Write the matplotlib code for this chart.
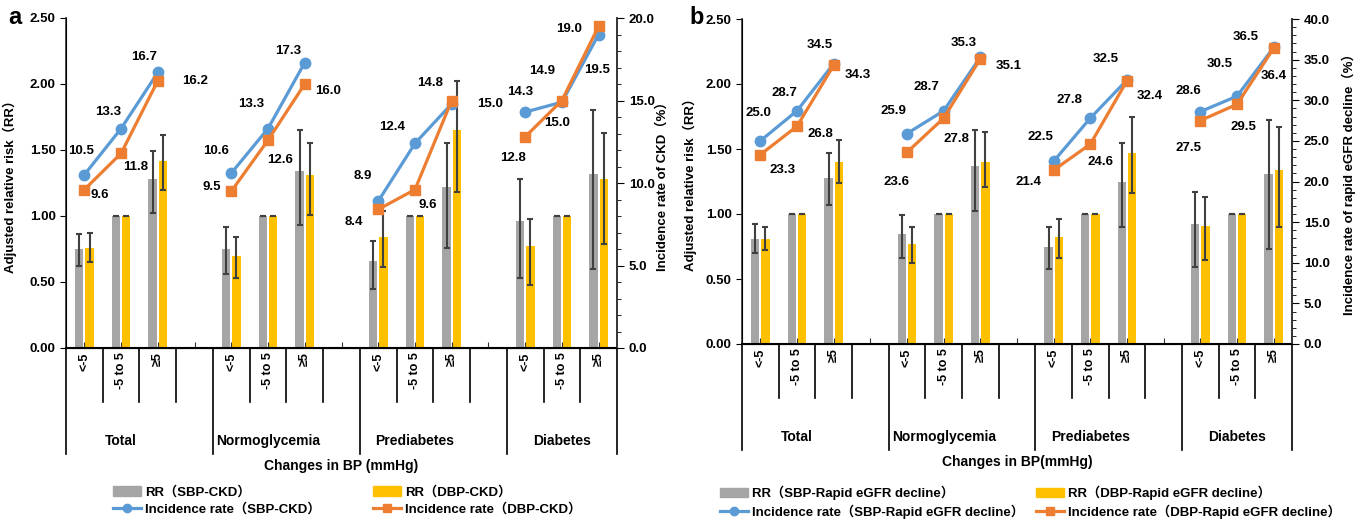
import numpy as np
import matplotlib
matplotlib.use("Agg")
import matplotlib.pyplot as plt
from matplotlib.patches import Patch
from matplotlib.lines import Line2D
from matplotlib.ticker import MultipleLocator, FormatStrFormatter

plt.rcParams['font.family'] = ['Liberation Sans', 'Noto Sans CJK SC']
plt.rcParams['font.weight'] = 'bold'
plt.rcParams['axes.labelweight'] = 'bold'

groups = ['Total', 'Normoglycemia', 'Prediabetes', 'Diabetes']
bp_cats = ['<-5', '-5 to 5', '≥5']

# panel a: CKD
rr_sbp_ckd = [0.75, 1.00, 1.28, 0.75, 1.00, 1.34, 0.66, 1.00, 1.22, 0.96, 1.00, 1.32]
rr_sbp_ckd_lo = [0.62, 1.00, 1.02, 0.56, 1.00, 0.93, 0.45, 1.00, 0.76, 0.53, 1.00, 0.60]
rr_sbp_ckd_hi = [0.86, 1.00, 1.49, 0.92, 1.00, 1.65, 0.81, 1.00, 1.55, 1.28, 1.00, 1.80]
rr_dbp_ckd = [0.76, 1.00, 1.42, 0.70, 1.00, 1.31, 0.84, 1.00, 1.65, 0.77, 1.00, 1.28]
rr_dbp_ckd_lo = [0.65, 1.00, 1.20, 0.53, 1.00, 1.01, 0.61, 1.00, 1.18, 0.48, 1.00, 0.79]
rr_dbp_ckd_hi = [0.87, 1.00, 1.61, 0.84, 1.00, 1.55, 1.04, 1.00, 2.02, 0.98, 1.00, 1.63]
ir_sbp_ckd = [10.5, 13.3, 16.7, 10.6, 13.3, 17.3, 8.9, 12.4, 14.8, 14.3, 14.9, 19.0]
ir_dbp_ckd = [9.6, 11.8, 16.2, 9.5, 12.6, 16.0, 8.4, 9.6, 15.0, 12.8, 15.0, 19.5]

# panel b: rapid eGFR decline
rr_sbp_egfr = [0.81, 1.00, 1.28, 0.85, 1.00, 1.37, 0.75, 1.00, 1.25, 0.92, 1.00, 1.31]
rr_sbp_egfr_lo = [0.70, 1.00, 1.07, 0.66, 1.00, 1.02, 0.58, 1.00, 0.90, 0.59, 1.00, 0.73]
rr_sbp_egfr_hi = [0.92, 1.00, 1.47, 0.99, 1.00, 1.65, 0.90, 1.00, 1.55, 1.17, 1.00, 1.72]
rr_dbp_egfr = [0.81, 1.00, 1.40, 0.77, 1.00, 1.40, 0.82, 1.00, 1.47, 0.91, 1.00, 1.34]
rr_dbp_egfr_lo = [0.72, 1.00, 1.24, 0.62, 1.00, 1.21, 0.66, 1.00, 1.16, 0.65, 1.00, 0.90]
rr_dbp_egfr_hi = [0.90, 1.00, 1.57, 0.90, 1.00, 1.63, 0.96, 1.00, 1.75, 1.13, 1.00, 1.67]
ir_sbp_egfr = [25.0, 28.7, 34.5, 25.9, 28.7, 35.3, 22.5, 27.8, 32.5, 28.6, 30.5, 36.5]
ir_dbp_egfr = [23.3, 26.8, 34.3, 23.6, 27.8, 35.1, 21.4, 24.6, 32.4, 27.5, 29.5, 36.4]

# label offsets (pixels) for the incidence numbers, as placed in the original
off_sbp_ckd = [(-3, 24), (-13, 17), (-14, 15), (-15, 22), (-17, 25), (-17, 12),
               (-15, 25), (-23, 16), (-22, 21), (-5, 20), (-20, 31), (-30, 6)]
off_dbp_ckd = [(15, -5), (15, -14), (37, 0), (-20, 4), (12, -20), (23, -7),
               (-24, -13), (13, -15), (38, -3), (-12, -21), (-5, -22), (-2, -44)]
off_sbp_egfr = [(-2, 28), (-13, 18), (-14, 19), (-14, 23), (-17, 24), (-17, 14),
                (-13, 24), (-21, 18), (-21, 21), (-12, 21), (-17, 32), (-28, 10)]
off_dbp_egfr = [(22, -15), (23, -8), (24, -10), (-11, -30), (13, -21), (28, -7),
                (-25, -12), (10, -18), (23, -15), (-12, -27), (6, -23), (0, -28)]

GREY = '#A5A5A5'
YELLOW = '#FFC000'
BLUE = '#5B9BD5'
ORANGE = '#ED7D31'
ERR = '#404040'

fig = plt.figure(figsize=(13.64, 5.21), dpi=100)
W, H = 1364, 521


def draw_panel(rect, rr_s, lo_s, hi_s, rr_d, lo_d, hi_d, ir_s, ir_d, off_s, off_d,
               ymax2, rlabel, xlabel, names, leg_x, lab_x):
    x0, y0, x1, y1 = rect
    ax = fig.add_axes([x0 / W, 1 - y1 / H, (x1 - x0) / W, (y1 - y0) / H])
    ah = y1 - y0
    pos = np.array([g * 4 + k for g in range(4) for k in range(3)])
    bw = 0.23
    rr_s, rr_d = np.array(rr_s), np.array(rr_d)
    err_s = [rr_s - np.array(lo_s), np.array(hi_s) - rr_s]
    err_d = [rr_d - np.array(lo_d), np.array(hi_d) - rr_d]
    ax.bar(pos - 0.14, rr_s, bw, color=GREY, yerr=err_s, capsize=2,
           error_kw=dict(ecolor=ERR, elinewidth=1.5, capthick=1.5))
    ax.bar(pos + 0.14, rr_d, bw, color=YELLOW, yerr=err_d, capsize=2,
           error_kw=dict(ecolor=ERR, elinewidth=1.5, capthick=1.5))
    ax.set_xlim(-0.5, 14.5)
    ax.set_ylim(0, 2.5)
    ax.yaxis.set_major_locator(MultipleLocator(0.5))
    ax.yaxis.set_major_formatter(FormatStrFormatter('%.2f'))
    ticks = np.arange(15)
    tlabels = [bp_cats[i % 4] if i % 4 < 3 else '' for i in ticks]
    ax.set_xticks(ticks)
    ax.set_xticklabels(tlabels, rotation=90, fontsize=9, va='top')
    ax.tick_params(axis='x', direction='in', length=4, pad=3, color='#333333')
    ax.tick_params(axis='y', direction='out', length=4, labelsize=9.5)
    ax.spines['top'].set_visible(False)
    for s in ['left', 'right', 'bottom']:
        ax.spines[s].set_color('#333333')
        ax.spines[s].set_linewidth(1.2)
    ax.spines['bottom'].set_color('black')
    ax.spines['bottom'].set_linewidth(1.5)
    ax.set_ylabel('Adjusted relative risk（RR）', fontsize=9.5)
    ax.yaxis.set_label_coords((lab_x[0] - x0) / (x1 - x0), 0.5)

    # divider lines under the category axis
    tr = ax.get_xaxis_transform()
    short_y = -54 / ah
    long_y = -106 / ah
    for b in np.arange(-0.5, 15, 1.0):
        yb = long_y if (b + 0.5) % 4 == 0 or b == 14.5 else short_y
        ax.plot([b, b], [0, yb], transform=tr, color='black', lw=1.2, clip_on=False)
    for g, name in enumerate(groups):
        ax.text(g * 4 + 1, -93 / ah, name, transform=tr, ha='center', va='center',
                fontsize=10)
    ax.text(0.5, -118 / ah, xlabel, transform=ax.transAxes, ha='center', va='center',
            fontsize=10)

    ax2 = ax.twinx()
    ax2.set_ylim(0, ymax2)
    ax2.yaxis.set_major_locator(MultipleLocator(5))
    ax2.yaxis.set_minor_locator(MultipleLocator(1))
    ax2.yaxis.set_major_formatter(FormatStrFormatter('%.1f'))
    ax2.tick_params(axis='y', which='major', direction='out', length=5, labelsize=9.5)
    ax2.tick_params(axis='y', which='minor', direction='out', length=3)
    ax2.spines['top'].set_visible(False)
    ax2.spines['right'].set_color('#333333')
    ax2.spines['right'].set_linewidth(1.2)
    ax2.set_ylabel(rlabel, fontsize=9.5)
    ax2.yaxis.set_label_coords((lab_x[1] - x0) / (x1 - x0), 0.5)
    for g in range(4):
        idx = slice(g * 3, g * 3 + 3)
        ax2.plot(pos[idx], ir_s[idx], color=BLUE, lw=2.3, marker='o', ms=7.5)
        ax2.plot(pos[idx], ir_d[idx], color=ORANGE, lw=2.3, marker='s', ms=7.5)
    for i in range(12):
        ax2.annotate('%.1f' % ir_s[i], (pos[i], ir_s[i]), xytext=off_s[i],
                     textcoords='offset pixels', ha='center', va='center', fontsize=9.5)
        ax2.annotate('%.1f' % ir_d[i], (pos[i], ir_d[i]), xytext=off_d[i],
                     textcoords='offset pixels', ha='center', va='center', fontsize=9.5)

    h_grey = Patch(color=GREY)
    h_yel = Patch(color=YELLOW)
    h_blue = Line2D([], [], color=BLUE, lw=2.3, marker='o', ms=6)
    h_or = Line2D([], [], color=ORANGE, lw=2.3, marker='s', ms=6)
    kw = dict(loc='upper left', frameon=False, fontsize=9.5, borderpad=0,
              borderaxespad=0, handlelength=2.1, handletextpad=0.3, labelspacing=0.3,
              bbox_transform=fig.transFigure)
    fig.legend([h_grey, h_blue], names[0:2], bbox_to_anchor=(leg_x[0] / W, 1 - 486 / H), **kw)
    fig.legend([h_yel, h_or], names[2:4], bbox_to_anchor=(leg_x[1] / W, 1 - 486 / H), **kw)
    return ax


draw_panel((66, 18, 617, 348), rr_sbp_ckd, rr_sbp_ckd_lo, rr_sbp_ckd_hi,
           rr_dbp_ckd, rr_dbp_ckd_lo, rr_dbp_ckd_hi, ir_sbp_ckd, ir_dbp_ckd,
           off_sbp_ckd, off_dbp_ckd, 20, 'Incidence rate of CKD（%）',
           'Changes in BP (mmHg)',
           ['RR（SBP-CKD）', 'Incidence rate（SBP-CKD）',
            'RR（DBP-CKD）', 'Incidence rate（DBP-CKD）'],
           (113, 373), (17, 656))

draw_panel((742, 19, 1292, 344), rr_sbp_egfr, rr_sbp_egfr_lo, rr_sbp_egfr_hi,
           rr_dbp_egfr, rr_dbp_egfr_lo, rr_dbp_egfr_hi, ir_sbp_egfr, ir_dbp_egfr,
           off_sbp_egfr, off_dbp_egfr, 40, 'Incidence rate of rapid eGFR decline（%）',
           'Changes in BP(mmHg)',
           ['RR（SBP-Rapid eGFR decline）', 'Incidence rate（SBP-Rapid eGFR decline）',
            'RR（DBP-Rapid eGFR decline）', 'Incidence rate（DBP-Rapid eGFR decline）'],
           (720, 1036), (697, 1342))

fig.text(15 / W, 1 - 17 / H, 'a', fontsize=17, fontweight='bold', ha='center', va='center')
fig.text(697 / W, 1 - 17 / H, 'b', fontsize=17, fontweight='bold', ha='center', va='center')

fig.savefig('out.png', dpi=100)
